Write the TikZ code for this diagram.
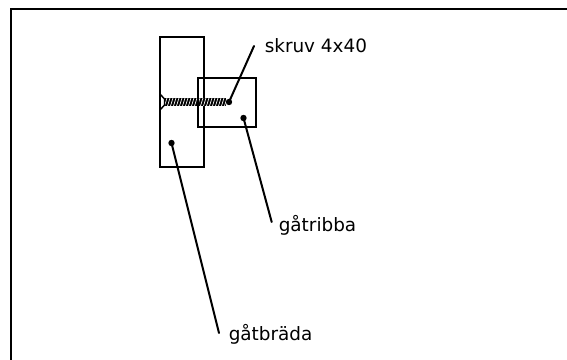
\documentclass[tikz,border=0pt]{standalone}
\usepackage{fontspec}
\setmainfont{DejaVu Sans}
\tikzset{
  px/.style={x=0.75pt,y=-0.75pt},
  part/.style={draw=black,line width=1.5pt},
  leader/.style={draw=black,line width=1.5pt,line cap=round},
  dotnode/.style={circle,fill=black,inner sep=0pt,minimum size=4.8pt},
  lbl/.style={inner sep=0pt,anchor=base west,font=\fontsize{13.8pt}{16pt}\selectfont}
}
\begin{document}
\begin{tikzpicture}[px]
\useasboundingbox (0,0) rectangle (567,360);
\fill[white] (0,0) rectangle (567,360);
\draw[part] (10.5,360) -- (10.5,9.5) -- (567,9.5);
\draw[part] (159.5,37.5) rectangle (203.7,166.7);
% screw
\fill[black] (164,98) rectangle (226,106);
\foreach \i in {0,...,20}{\draw[white,line width=0.5pt] ({164.5+\i*3},106) -- ({167+\i*3},98);}
\draw[black,line width=1.1pt] (160,94) -- (164.5,99) -- (164.5,105) -- (160,110);
\draw[part] (198,78.3) rectangle (255.7,126.7);
\node[dotnode] (ds) at (229,102) {};
\node[dotnode] (dr) at (243.5,118) {};
\node[dotnode] (db) at (171.5,143) {};
\coordinate (es) at (254,46);
\coordinate (er) at (271.7,222);
\coordinate (eb) at (219,333);
\draw[leader] (ds.center) -- (es);
\draw[leader] (dr.center) -- (er);
\draw[leader] (db.center) -- (eb);
\node[lbl] (ts) at (264.5,53) {skruv 4x40};
\node[lbl] (tr) at (278.5,231) {gåtribba};
\node[lbl] (tb) at (228.5,340.5) {gåtbräda};
\end{tikzpicture}
\end{document}
